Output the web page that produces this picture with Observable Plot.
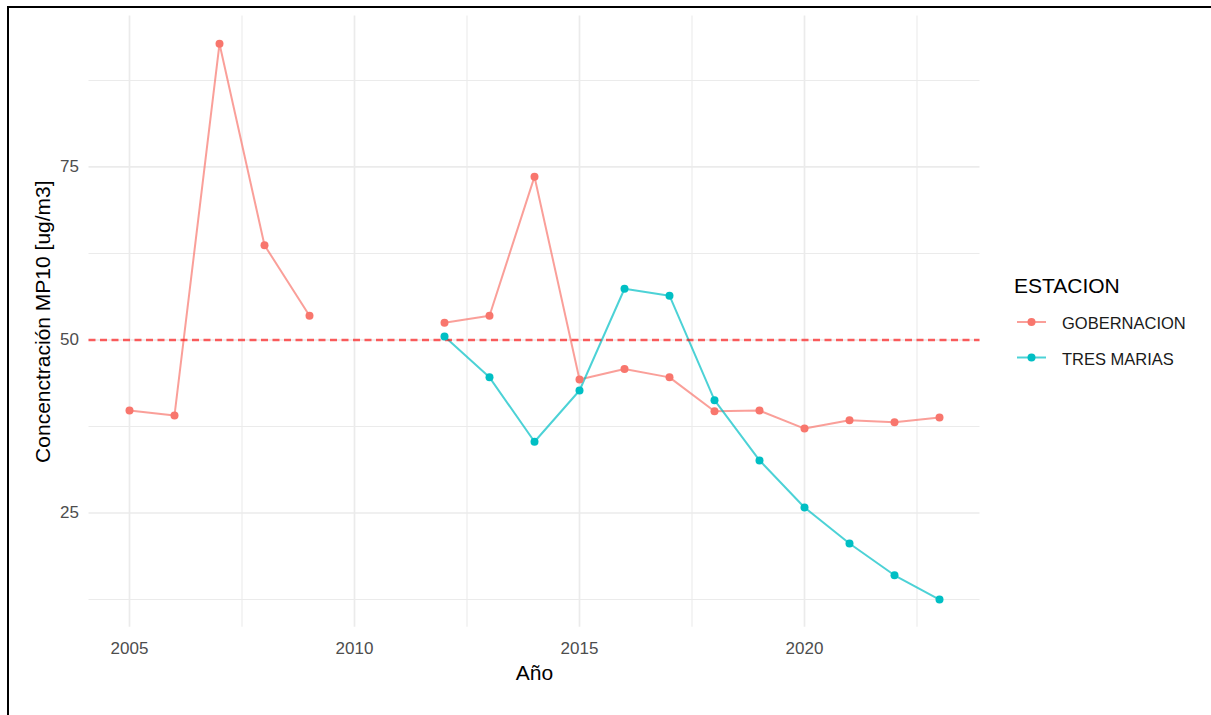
<!DOCTYPE html>
<html>
<head>
<meta charset="utf-8">
<script src="https://cdn.jsdelivr.net/npm/d3@7"></script>
<script src="https://cdn.jsdelivr.net/npm/@observablehq/plot@0.6"></script>
<style>
  html, body { margin: 0; padding: 0; background: #fff; }
  #wrap { position: relative; width: 1211px; height: 715px; overflow: hidden; font-family: "Liberation Sans", Arial, sans-serif; }
  #frame { position: absolute; left: 7px; top: 6px; width: 1220px; height: 720px; border-top: 2px solid #000; border-left: 2.4px solid #000; }
  #chart { position: absolute; left: 0; top: 0; }
  #legend { position: absolute; left: 0; top: 0; }
</style>
</head>
<body>
<div id="wrap">
  <div id="chart"></div>
  <svg id="legend" width="1211" height="715"></svg>
  <div id="frame"></div>
</div>
<script>
// ---- data ----
const years = [2005, 2006, 2007, 2008, 2009, 2010, 2011, 2012, 2013, 2014, 2015, 2016, 2017, 2018, 2019, 2020, 2021, 2022, 2023];
const gobernacion = [39.8, 39.1, 92.8, 63.7, 53.5, null, null, 52.5, 53.5, 73.6, 44.3, 45.8, 44.6, 39.7, 39.8, 37.2, 38.4, 38.1, 38.8];
const tresMarias = [null, null, null, null, null, null, null, 50.5, 44.6, 35.3, 42.7, 57.4, 56.4, 41.3, 32.6, 25.8, 20.6, 16.0, 12.5];
const stations = ["GOBERNACION", "TRES MARIAS"];
const stationColors = ["#F8766D", "#00BFC4"];
const xTicks = [2005, 2010, 2015, 2020];
const xMinor = [2007.5, 2012.5, 2017.5, 2022.5];
const yTicks = [25, 50, 75];
const yMinor = [12.5, 37.5, 62.5, 87.5];
const threshold = [50];
const legendTitle = "ESTACION";
const xLabel = "Año";
const yLabel = "Concenctración MP10 [ug/m3]";

const series = [gobernacion, tresMarias];
const rows = series.flatMap((vals, i) => years.map((year, j) => ({ year, value: vals[j], station: stations[i] })));
const valid = rows.filter(d => d.value != null);

const ext = d3.extent(valid, d => d.value);
const pad = (ext[1] - ext[0]) * 0.05;
const yDomain = [ext[0] - pad, ext[1] + pad];
const xExt = d3.extent(years);
const xPad = (xExt[1] - xExt[0]) * 0.05;
const xDomain = [xExt[0] - xPad, xExt[1] + xPad];

const font = '"Liberation Sans", Arial, sans-serif';
const grid = "#EBEBEB";

const chart = Plot.plot({
  width: 980,
  height: 715,
  marginLeft: 88.5,
  marginRight: 0.5,
  marginTop: 15.5,
  marginBottom: 88.2,
  x: { domain: xDomain },
  y: { domain: yDomain },
  color: { domain: stations, range: stationColors },
  style: { fontFamily: font, background: "transparent", overflow: "visible" },
  marks: [
    Plot.ruleY(yMinor, { stroke: grid, strokeWidth: 1.1 }),
    Plot.ruleX(xMinor, { stroke: grid, strokeWidth: 1.1 }),
    Plot.ruleY(yTicks, { stroke: grid, strokeWidth: 1.7 }),
    Plot.ruleX(xTicks, { stroke: grid, strokeWidth: 1.7 }),
    Plot.axisX({ ticks: xTicks, tickSize: 0, tickPadding: 15, tickFormat: d3.format("d"), fontSize: 17, fill: "#4D4D4D", label: null }),
    Plot.axisY({ ticks: yTicks, tickSize: 0, tickPadding: 10, fontSize: 17, fill: "#4D4D4D", label: null }),
    Plot.line(rows, { x: "year", y: "value", z: "station", stroke: "station", strokeWidth: 2, strokeOpacity: 0.7 }),
    Plot.ruleY(threshold, { stroke: "red", strokeOpacity: 0.62, strokeWidth: 2.5, strokeDasharray: "7,4.5" }),
    Plot.dot(valid, { x: "year", y: "value", fill: "station", r: 4 }),
    Plot.text([xLabel], { text: d => d, frameAnchor: "bottom", dy: 53, fontSize: 21, fill: "#000" }),
    Plot.text([yLabel], { text: d => d, frameAnchor: "left", textAnchor: "middle", rotate: -90, dx: -46, fontSize: 21, fill: "#000" })
  ]
});
document.getElementById("chart").appendChild(chart);

// ---- legend ----
const lg = d3.select("#legend").style("font-family", font);
lg.append("text").attr("x", 1014).attr("y", 293).attr("font-size", 21).attr("fill", "#000").text(legendTitle);
const itemY = [322, 357.5];
stations.forEach((s, i) => {
  const y = itemY[i];
  lg.append("line").attr("x1", 1017).attr("x2", 1046).attr("y1", y).attr("y2", y)
    .attr("stroke", stationColors[i]).attr("stroke-width", 2).attr("stroke-opacity", 0.7);
  lg.append("circle").attr("cx", 1031.5).attr("cy", y).attr("r", 4).attr("fill", stationColors[i]);
  lg.append("text").attr("x", 1062).attr("y", y + 7).attr("font-size", 16.5).attr("fill", "#1a1a1a").text(s);
});
</script>
</body>
</html>
